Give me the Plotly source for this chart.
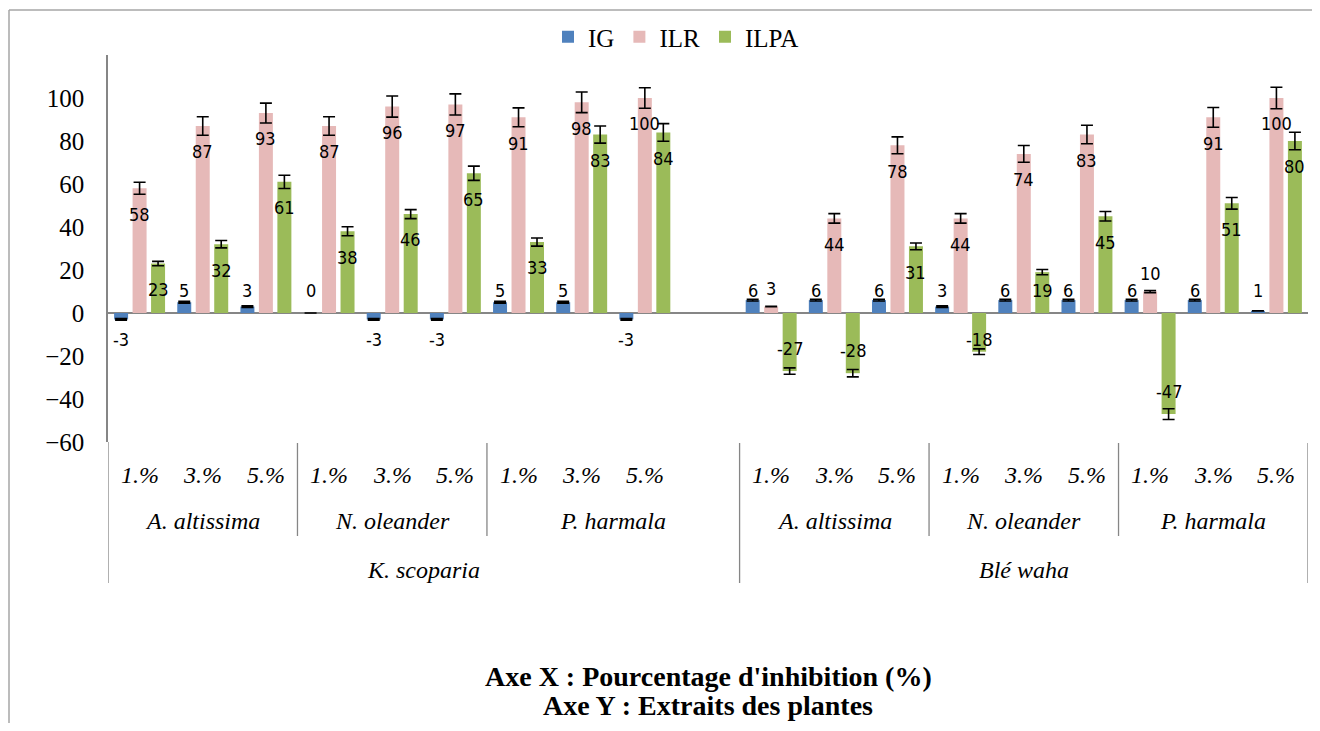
import plotly.graph_objects as go

# ---------------- data ----------------
groups = ["K. scoparia", "Blé waha"]
plants = ["A. altissima", "N. oleander", "P. harmala"]
doses = ["1.%", "3.%", "5.%"]

# 19 category slots: 9 for K. scoparia, 1 empty spacer, 9 for Blé waha
IG = [-3, 5, 3, 0, -3, -3, 5, 5, -3, None, 6, 6, 6, 3, 6, 6, 6, 6, 1]
ILR = [58, 87, 93, 87, 96, 97, 91, 98, 100, None, 3, 44, 78, 44, 74, 83, 10, 91, 100]
ILPA = [23, 32, 61, 38, 46, 65, 33, 83, 84, None, -27, -28, 31, -18, 19, 45, -47, 51, 80]

IG_err = [0.4, 0.4, 0.4, None, 0.4, 0.4, 0.4, 0.4, 0.4, None, 0.4, 0.4, 0.4, 0.4, 0.4, 0.4, 0.4, 0.4, 0]
ILR_err = [2.8, 4.3, 4.6, 4.3, 4.9, 4.9, 4.4, 4.8, 4.8, None, 0.1, 2.2, 3.9, 2.2, 3.9, 4.3, 0.5, 4.6, 5.0]
ILPA_err = [1.0, 1.7, 3.1, 2.1, 2.1, 3.3, 1.9, 4.0, 4.1, None, 1.5, 1.7, 1.55, 1.3, 1.2, 2.2, 2.5, 2.7, 4.1]

series = [("IG", IG, IG_err, "#4F81BD"),
          ("ILR", ILR, ILR_err, "#E6B9B8"),
          ("ILPA", ILPA, ILPA_err, "#9BBB59")]

# ---------------- layout constants ----------------
# page has an 8px body margin, so the figure is placed 8px in from the top-left
OFF = 8
W, H = 1304, 715
L, R, T, B = 108 - OFF, 4, 55 - OFF, 715 - (442 - OFF)
PLOT_H = 442 - 55
PLOT_W = 1308 - 108
X = list(range(len(IG)))
SERIF = "Liberation Serif, Times New Roman, Times, serif"
LABEL_FONT = "Liberation Sans Narrow, DejaVu Sans Condensed, sans-serif"
AXIS_GREY = "#868686"


def py(pix):
    """page pixel row -> paper y"""
    return (442 - pix) / PLOT_H


def px(pix):
    """page pixel column -> paper x"""
    return (pix - 108) / PLOT_W


fig = go.Figure()
for name, vals, errs, col in series:
    fig.add_trace(go.Bar(
        x=X, y=vals, name=name,
        marker=dict(color=col, line=dict(width=0)),
        error_y=dict(type="data", array=errs, visible=True,
                     color="black", thickness=1.6, width=6),
    ))

# ---------------- data labels ----------------
def label_y(v, is_ig):
    if is_ig:
        return 10.7 if v >= 0 else -12.5
    if v >= 15:
        return max(v - 12, 10.7)
    if v <= -15:
        return min(v + 10.5, -12.5)
    return max(10.7, v + 8.5) if v >= 0 else -12.5


shift = {"IG": -18.5, "ILR": 0, "ILPA": 18.5}
annotations = []
for name, vals, errs, col in series:
    for i, v in enumerate(vals):
        if v is None:
            continue
        annotations.append(dict(
            x=i, y=label_y(v, name == "IG"), xref="x", yref="y",
            text=str(v), showarrow=False, xshift=shift[name],
            font=dict(family=LABEL_FONT, size=18, color="black"),
            xanchor="center", yanchor="middle"))

# ---------------- category labels ----------------
cat_font = dict(family=SERIF, size=24, color="black", style="italic")
slot = 0
for g_i, g in enumerate(groups):
    start = slot
    for p_i, p in enumerate(plants):
        p_start = slot
        for d in doses:
            annotations.append(dict(x=slot, y=py(475), xref="x", yref="paper",
                                    text=d, showarrow=False, font=cat_font,
                                    yanchor="middle"))
            slot += 1
        p_end = slot - 1
        if g_i == 0 and p_i == len(plants) - 1:
            p_end = slot  # includes the spacer slot
        annotations.append(dict(x=(p_start + p_end) / 2, y=py(521), xref="x", yref="paper",
                                text=p, showarrow=False, font=cat_font, yanchor="middle"))
    end = slot if g_i == 0 else slot - 1
    annotations.append(dict(x=(start - 0.5 + end + 0.5) / 2, y=py(570), xref="x", yref="paper",
                            text=g, showarrow=False, font=cat_font, yanchor="middle"))
    if g_i == 0:
        slot += 1  # spacer

# titles
title_font = dict(family=SERIF, size=28, color="black", weight="bold")
annotations.append(dict(x=px(708), y=py(676), xref="paper", yref="paper",
                        text="Axe X : Pourcentage d'inhibition (%)", showarrow=False,
                        font=title_font, yanchor="middle"))
annotations.append(dict(x=px(708), y=py(705), xref="paper", yref="paper",
                        text="Axe Y : Extraits des plantes", showarrow=False,
                        font=title_font, yanchor="middle"))

# ---------------- separators ----------------
shapes = []
for xs in [2.5, 5.5, 12.5, 15.5]:
    shapes.append(dict(type="line", xref="x", yref="paper", x0=xs, x1=xs,
                       y0=py(443), y1=py(536), line=dict(color=AXIS_GREY, width=1.3)))
for xs in [-0.5, 9.5, 18.5]:
    shapes.append(dict(type="line", xref="x", yref="paper", x0=xs, x1=xs,
                       y0=py(443) if xs != -0.5 else 0, y1=py(583),
                       line=dict(color=AXIS_GREY, width=1.3)))
# chart area border (top and left edges; the rest lies outside the picture)
border = dict(color="#A6A6A6", width=1.5)
shapes.append(dict(type="line", xref="paper", yref="paper",
                   x0=px(9), x1=px(1320), y0=py(10), y1=py(10), line=border))
shapes.append(dict(type="line", xref="paper", yref="paper",
                   x0=px(9), x1=px(9), y0=py(10), y1=py(731), line=border))

fig.update_layout(
    width=W, height=H,
    margin=dict(l=L, r=R, t=T, b=B),
    paper_bgcolor="white", plot_bgcolor="white",
    barmode="group", bargap=0.122, bargroupgap=0.243,
    showlegend=True,
    legend=dict(orientation="h", x=px(676), y=py(37), xanchor="center", yanchor="middle",
                font=dict(family=SERIF, size=25, color="black"), itemwidth=30,
                bgcolor="rgba(0,0,0,0)", traceorder="normal"),
    xaxis=dict(range=[-0.5, 18.5], showticklabels=False, showgrid=False,
               zeroline=False, showline=False, ticks=""),
    yaxis=dict(range=[-60, 120], tickvals=[-60, -40, -20, 0, 20, 40, 60, 80, 100],
               showgrid=False, zeroline=True, zerolinecolor=AXIS_GREY, zerolinewidth=1.5,
               showline=True, linecolor=AXIS_GREY, linewidth=1.5, ticks="",
               ticklabelstandoff=17,
               tickfont=dict(family=SERIF, size=25, color="black")),
    annotations=annotations, shapes=shapes,
)

fig.write_html("out.html")
